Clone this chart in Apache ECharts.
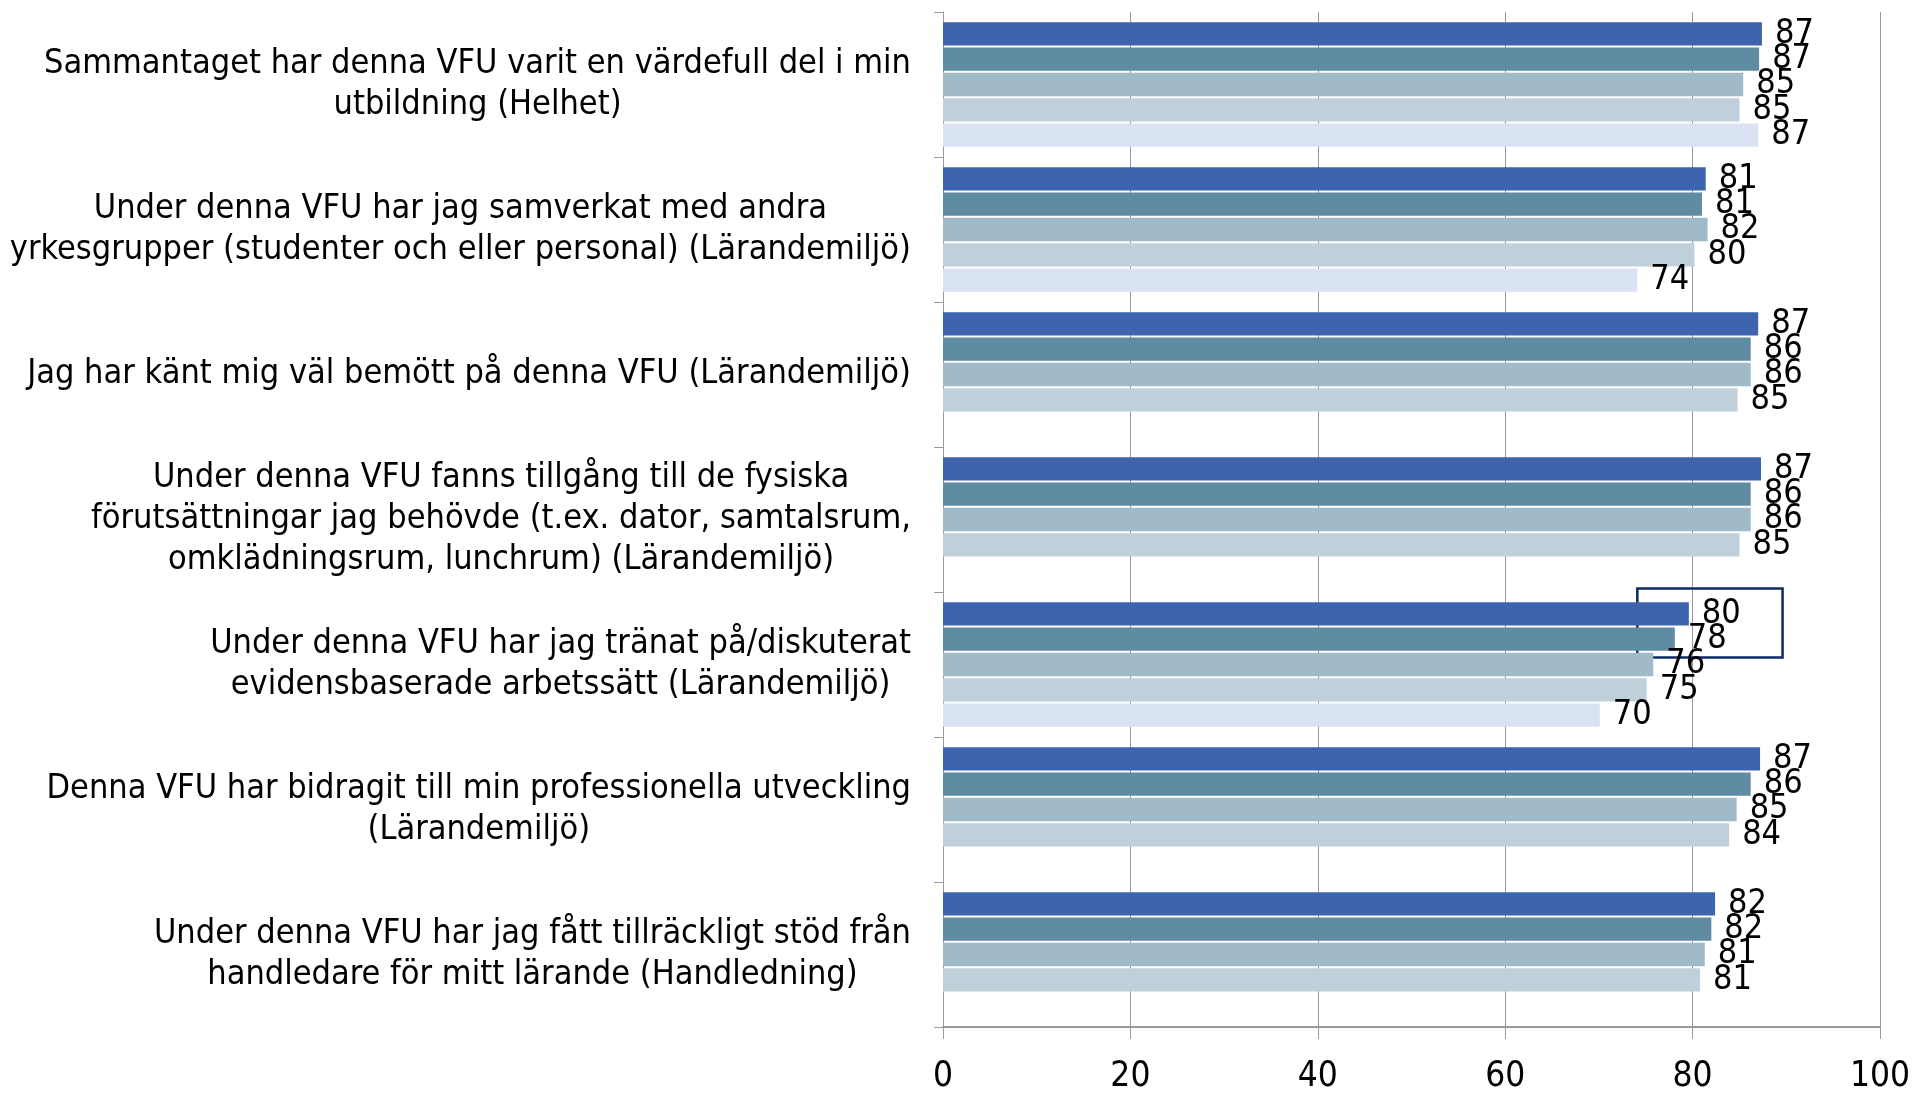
<!DOCTYPE html>
<html>
<head>
<meta charset="utf-8">
<script src="https://cdn.jsdelivr.net/npm/echarts@6/dist/echarts.min.js"></script>
<style>
html,body{margin:0;padding:0;background:#fff;}
#chart{width:1914px;height:1094px;}
</style>
</head>
<body>
<div id="chart"></div>
<script>
// frågor (uppifrån och ner)
var categories = [
	'Sammantaget har denna VFU varit en värdefull del i min\nutbildning (Helhet)',
	'Under denna VFU har jag samverkat med andra\nyrkesgrupper (studenter och eller personal) (Lärandemiljö)',
	'Jag har känt mig väl bemött på denna VFU (Lärandemiljö)',
	'Under denna VFU fanns tillgång till de fysiska\nförutsättningar jag behövde (t.ex. dator, samtalsrum,\nomklädningsrum, lunchrum) (Lärandemiljö)',
	'Under denna VFU har jag tränat på/diskuterat\nevidensbaserade arbetssätt (Lärandemiljö)',
	'Denna VFU har bidragit till min professionella utveckling\n(Lärandemiljö)',
	'Under denna VFU har jag fått tillräckligt stöd från\nhandledare för mitt lärande (Handledning)'
];

// fem serier, null = saknas
var serie1 = [87.4, 81.4, 87.0, 87.3, 79.6, 87.2, 82.4];
var serie2 = [87.1, 81.0, 86.2, 86.2, 78.1, 86.2, 82.0];
var serie3 = [85.4, 81.6, 86.2, 86.2, 75.8, 84.7, 81.3];
var serie4 = [85.0, 80.2, 84.8, 85.0, 75.1, 83.9, 80.8];
var serie5 = [87.0, 74.1, null, null, 70.1, null, null];

var seriesNames = ['Serie 1', 'Serie 2', 'Serie 3', 'Serie 4', 'Serie 5'];
var colorArr = ['#3D64AC', '#5F8CA3', '#A0BAC8', '#BFD0DB', '#DAE3F3'];

var xTicks = [0, 20, 40, 60, 80, 100];

// markerad ruta runt 80/78
var boxX = [74.1, 89.6];
var boxCat = 4;

var fontFam = "'DejaVu Sans Condensed', 'DejaVu Sans', sans-serif";

var allData = [serie1, serie2, serie3, serie4, serie5];
var seriesArr = [];
for (var i = 0; i < allData.length; i++) {
	seriesArr.push({
		name: seriesNames[i],
		type: 'bar',
		data: allData[i],
		barGap: '9%',
		barCategoryGap: '14%',
		itemStyle: {color: colorArr[i]},
		label: {
			show: true,
			position: 'right',
			distance: 13,
			color: '#000',
			fontSize: 34,
			fontFamily: fontFam,
			formatter: function(p) { return Math.round(p.value); }
		},
		silent: true
	});
}

var option = {
	animation: false,
	backgroundColor: '#fff',
	grid: {left: 943, right: 34, top: 12, bottom: 66, containLabel: false},
	xAxis: {
		type: 'value',
		min: xTicks[0],
		max: xTicks[xTicks.length - 1],
		interval: 20,
		axisLine: {show: true, lineStyle: {color: '#999', width: 2}},
		axisTick: {show: true, length: 12, lineStyle: {color: '#999'}},
		splitLine: {show: true, lineStyle: {color: '#999', width: 1}},
		axisLabel: {color: '#000', fontSize: 35, fontFamily: fontFam, margin: 32}
	},
	yAxis: {
		type: 'category',
		inverse: true,
		data: categories,
		axisLine: {show: true, lineStyle: {color: '#999', width: 1}},
		axisTick: {show: true, length: 9, lineStyle: {color: '#999'}},
		axisLabel: {
			margin: 32,
			formatter: function(v) {
				return v.split('\n').map(function(s){ return '{c|' + s + '}'; }).join('\n');
			},
			rich: {
				c: {align: 'center', color: '#000', fontSize: 34, fontFamily: fontFam, lineHeight: 41}
			}
		}
	},
	series: seriesArr
};

var myChart = echarts.init(document.getElementById('chart'));
myChart.setOption(option);

// ruta runt de två översta staplarna i fråga 5
var x0 = myChart.convertToPixel({xAxisIndex: 0}, boxX[0]);
var x1 = myChart.convertToPixel({xAxisIndex: 0}, boxX[1]);
var yc = myChart.convertToPixel({yAxisIndex: 0}, boxCat);
myChart.setOption({
	graphic: [{
		type: 'rect',
		shape: {x: x0, y: yc - 76, width: x1 - x0, height: 69},
		style: {fill: 'none', stroke: '#0E2A66', lineWidth: 2.5},
		silent: true
	}]
});
</script>
</body>
</html>
